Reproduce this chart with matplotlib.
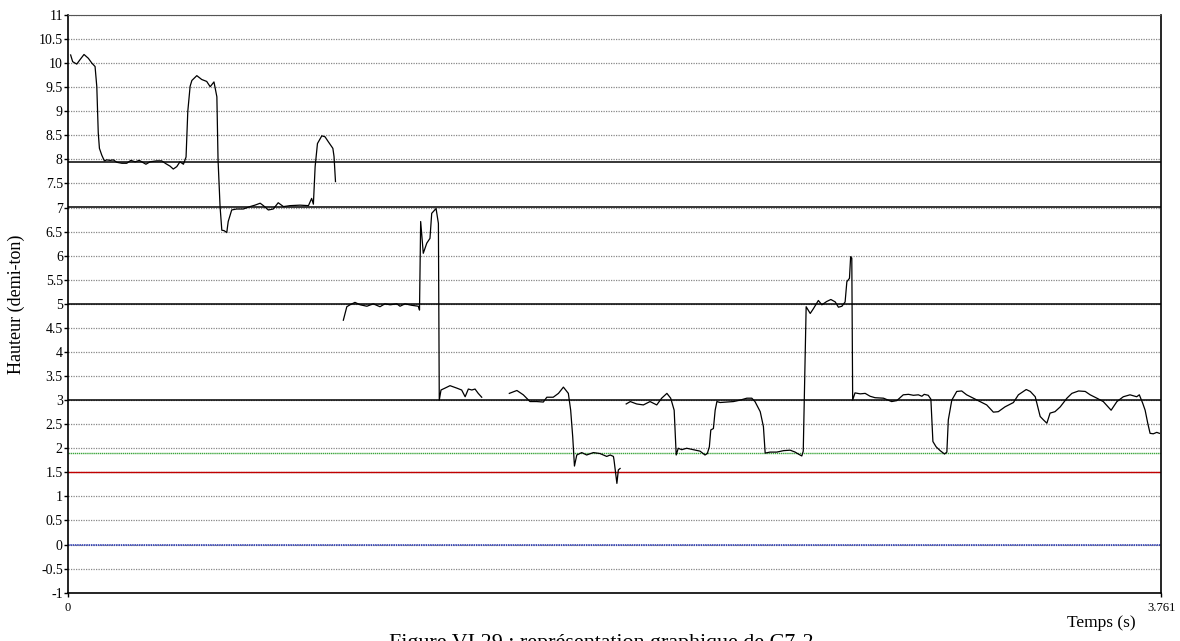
import matplotlib.pyplot as plt
import numpy as np

# courbe de hauteur, par segments (temps en s, hauteur en demi-tons)
seg1_t = [0.010, 0.017, 0.031, 0.042, 0.056, 0.071, 0.083, 0.094, 0.100, 0.105, 0.109, 0.117, 0.126,
          0.134, 0.146, 0.157, 0.169, 0.186, 0.203, 0.217, 0.232, 0.246, 0.269, 0.283, 0.306, 0.323,
          0.338, 0.352, 0.363, 0.375, 0.386, 0.398, 0.407, 0.413, 0.421, 0.427, 0.444, 0.461, 0.478,
          0.490, 0.503, 0.513, 0.517, 0.524, 0.530, 0.538, 0.547, 0.552, 0.564, 0.581, 0.604, 0.627,
          0.644, 0.662, 0.673, 0.690, 0.707, 0.724, 0.742, 0.765, 0.799, 0.828, 0.839, 0.845, 0.851,
          0.859, 0.874, 0.885, 0.896, 0.912, 0.916, 0.921]
seg1_v = [10.17, 10.03, 9.98, 10.07, 10.18, 10.10, 10.00, 9.93, 9.51, 8.55, 8.23, 8.09, 7.97,
          7.99, 7.98, 7.99, 7.94, 7.92, 7.92, 7.98, 7.95, 7.98, 7.90, 7.95, 7.97, 7.97,
          7.91, 7.86, 7.80, 7.85, 7.95, 7.90, 8.05, 9.00, 9.52, 9.64, 9.74, 9.66, 9.62,
          9.51, 9.61, 9.30, 8.00, 7.02, 6.53, 6.52, 6.48, 6.71, 6.95, 6.97, 6.97, 7.02,
          7.05, 7.09, 7.04, 6.95, 6.97, 7.10, 7.02, 7.04, 7.05, 7.04, 7.19, 7.07, 7.85,
          8.33, 8.49, 8.47, 8.37, 8.23, 8.06, 7.54]

seg2_t = [0.948, 0.960, 0.971, 0.988, 1.006, 1.029, 1.051, 1.074, 1.091, 1.109, 1.132, 1.143, 1.160,
          1.183, 1.206, 1.210, 1.214, 1.223, 1.235, 1.246, 1.252, 1.267, 1.275, 1.278, 1.284, 1.298,
          1.315, 1.338, 1.355, 1.367, 1.378, 1.390, 1.401, 1.412, 1.424]
seg2_v = [4.66, 4.94, 4.98, 5.03, 4.98, 4.95, 5.00, 4.94, 5.00, 4.98, 5.00, 4.95, 5.00,
          4.97, 4.95, 4.87, 6.71, 6.05, 6.26, 6.36, 6.88, 6.98, 6.67, 3.00, 3.21, 3.25,
          3.30, 3.25, 3.21, 3.07, 3.23, 3.21, 3.23, 3.14, 3.06]

seg3_t = [1.519, 1.545, 1.567, 1.590, 1.613, 1.636, 1.648, 1.670, 1.688, 1.705, 1.722, 1.730, 1.737,
          1.743, 1.751, 1.768, 1.785, 1.808, 1.831, 1.854, 1.866, 1.877, 1.879, 1.889, 1.894, 1.900]
seg3_v = [3.14, 3.20, 3.11, 2.97, 2.97, 2.96, 3.06, 3.06, 3.14, 3.27, 3.14, 2.79, 2.24,
          1.63, 1.86, 1.91, 1.86, 1.91, 1.89, 1.83, 1.86, 1.83, 1.76, 1.27, 1.55, 1.58]

seg4_t = [1.921, 1.935, 1.957, 1.980, 2.003, 2.026, 2.043, 2.061, 2.074, 2.086, 2.093, 2.100, 2.112,
          2.129, 2.152, 2.175, 2.192, 2.200, 2.207, 2.212, 2.221, 2.227, 2.233, 2.244, 2.267, 2.290,
          2.313, 2.336, 2.353, 2.364, 2.382, 2.393, 2.399, 2.416, 2.439, 2.462, 2.485, 2.502, 2.513,
          2.525, 2.530, 2.540, 2.554, 2.565, 2.582, 2.594, 2.611, 2.625, 2.640, 2.651, 2.663, 2.674,
          2.680, 2.689, 2.693, 2.697, 2.700, 2.708, 2.726, 2.743, 2.760, 2.777, 2.806, 2.834, 2.852,
          2.874, 2.892, 2.909, 2.926, 2.938, 2.946, 2.960, 2.969, 2.976, 2.987, 3.001, 3.016, 3.024,
          3.029, 3.041, 3.058, 3.075, 3.092, 3.115, 3.138, 3.161, 3.184, 3.201, 3.224, 3.253, 3.270,
          3.297, 3.311, 3.328, 3.345, 3.356, 3.368, 3.379, 3.396, 3.414, 3.437, 3.454, 3.477, 3.500,
          3.517, 3.540, 3.562, 3.589, 3.609, 3.631, 3.654, 3.677, 3.686, 3.698, 3.706, 3.715, 3.723,
          3.734, 3.746, 3.755]
seg4_v = [2.92, 2.97, 2.92, 2.90, 2.97, 2.90, 3.04, 3.14, 3.04, 2.79, 1.86, 2.00, 1.97,
          2.00, 1.97, 1.94, 1.86, 1.89, 2.03, 2.38, 2.41, 2.79, 2.97, 2.95, 2.96, 2.97,
          3.00, 3.04, 3.04, 2.97, 2.76, 2.45, 1.90, 1.92, 1.92, 1.95, 1.96, 1.92, 1.88,
          1.84, 1.94, 4.94, 4.80, 4.90, 5.07, 4.98, 5.05, 5.09, 5.04, 4.93, 4.95, 5.04,
          5.46, 5.53, 5.98, 5.95, 3.00, 3.15, 3.13, 3.14, 3.08, 3.05, 3.04, 2.97, 2.99,
          3.11, 3.12, 3.10, 3.11, 3.08, 3.12, 3.10, 3.02, 2.14, 2.03, 1.95, 1.88, 1.92,
          2.59, 3.00, 3.18, 3.19, 3.11, 3.04, 2.97, 2.90, 2.75, 2.76, 2.86, 2.95, 3.11,
          3.22, 3.18, 3.07, 2.66, 2.59, 2.52, 2.73, 2.76, 2.86, 3.04, 3.14, 3.19, 3.18,
          3.11, 3.04, 2.97, 2.79, 2.97, 3.07, 3.11, 3.07, 3.11, 2.93, 2.79, 2.52, 2.31,
          2.30, 2.33, 2.31]

# niveaux de référence
niveaux_noirs = [7.94, 7.02, 5.0, 3.0]
niveau_vert = 1.91
niveau_rouge = 1.5
niveau_bleu = 0.0

t_max = 3.761
serif = ['Liberation Serif', 'DejaVu Serif']

fig = plt.figure(figsize=(11.8, 6.41), dpi=100)
ax = fig.add_axes([0.0574, 0.0754, 0.9266, 0.9012])

yt = np.arange(-1, 11.01, 0.5)
for y in yt:
    ax.axhline(y, color='#888888', lw=0.9, ls=(0, (1, 1)), zorder=1)

for y in niveaux_noirs:
    ax.axhline(y, color='black', lw=1.1, zorder=2)
ax.axhline(niveau_vert, color='#3aa53a', lw=1.0, ls=(0, (1, 0.5)), zorder=2)
ax.axhline(niveau_rouge, color='#c00000', lw=1.0, zorder=2)
ax.axhline(niveau_bleu, color='#1f2fb0', lw=1.1, ls=(0, (1, 0.5)), zorder=2)

for t, v in [(seg1_t, seg1_v), (seg2_t, seg2_v), (seg3_t, seg3_v), (seg4_t, seg4_v)]:
    ax.plot(t, v, color='black', lw=0.9, zorder=3)

ax.set_xlim(0, t_max)
ax.set_ylim(-1, 11)
ax.set_yticks(yt)
ax.set_yticklabels(['%g' % y for y in yt], family=serif, fontsize=10)
ax.set_xticks([0, t_max])
ax.set_xticklabels(['0', '3.761'], family=serif, fontsize=9)
ax.tick_params(axis='y', length=3, pad=0.5, width=1)
ax.tick_params(axis='x', length=3, pad=4, width=1)

ax.spines['top'].set_color('#555555')
ax.spines['top'].set_linestyle((0, (1, 1)))
for s in ['left', 'right', 'bottom']:
    ax.spines[s].set_color('black')
    ax.spines[s].set_linewidth(1.2)

ax.set_ylabel('Hauteur (demi-ton)', family=serif, fontsize=13, labelpad=10)

fig.text(1101 / 1180, 1 - 623 / 641, 'Temps (s)', family=serif, fontsize=12.5,
         ha='center', va='center')
fig.text(601 / 1180, 1 - 644 / 641, 'Figure VI.29 : représentation graphique de C7-2',
         family=serif, fontsize=15.8, ha='center', va='center')

fig.savefig('out.png', dpi=100)
